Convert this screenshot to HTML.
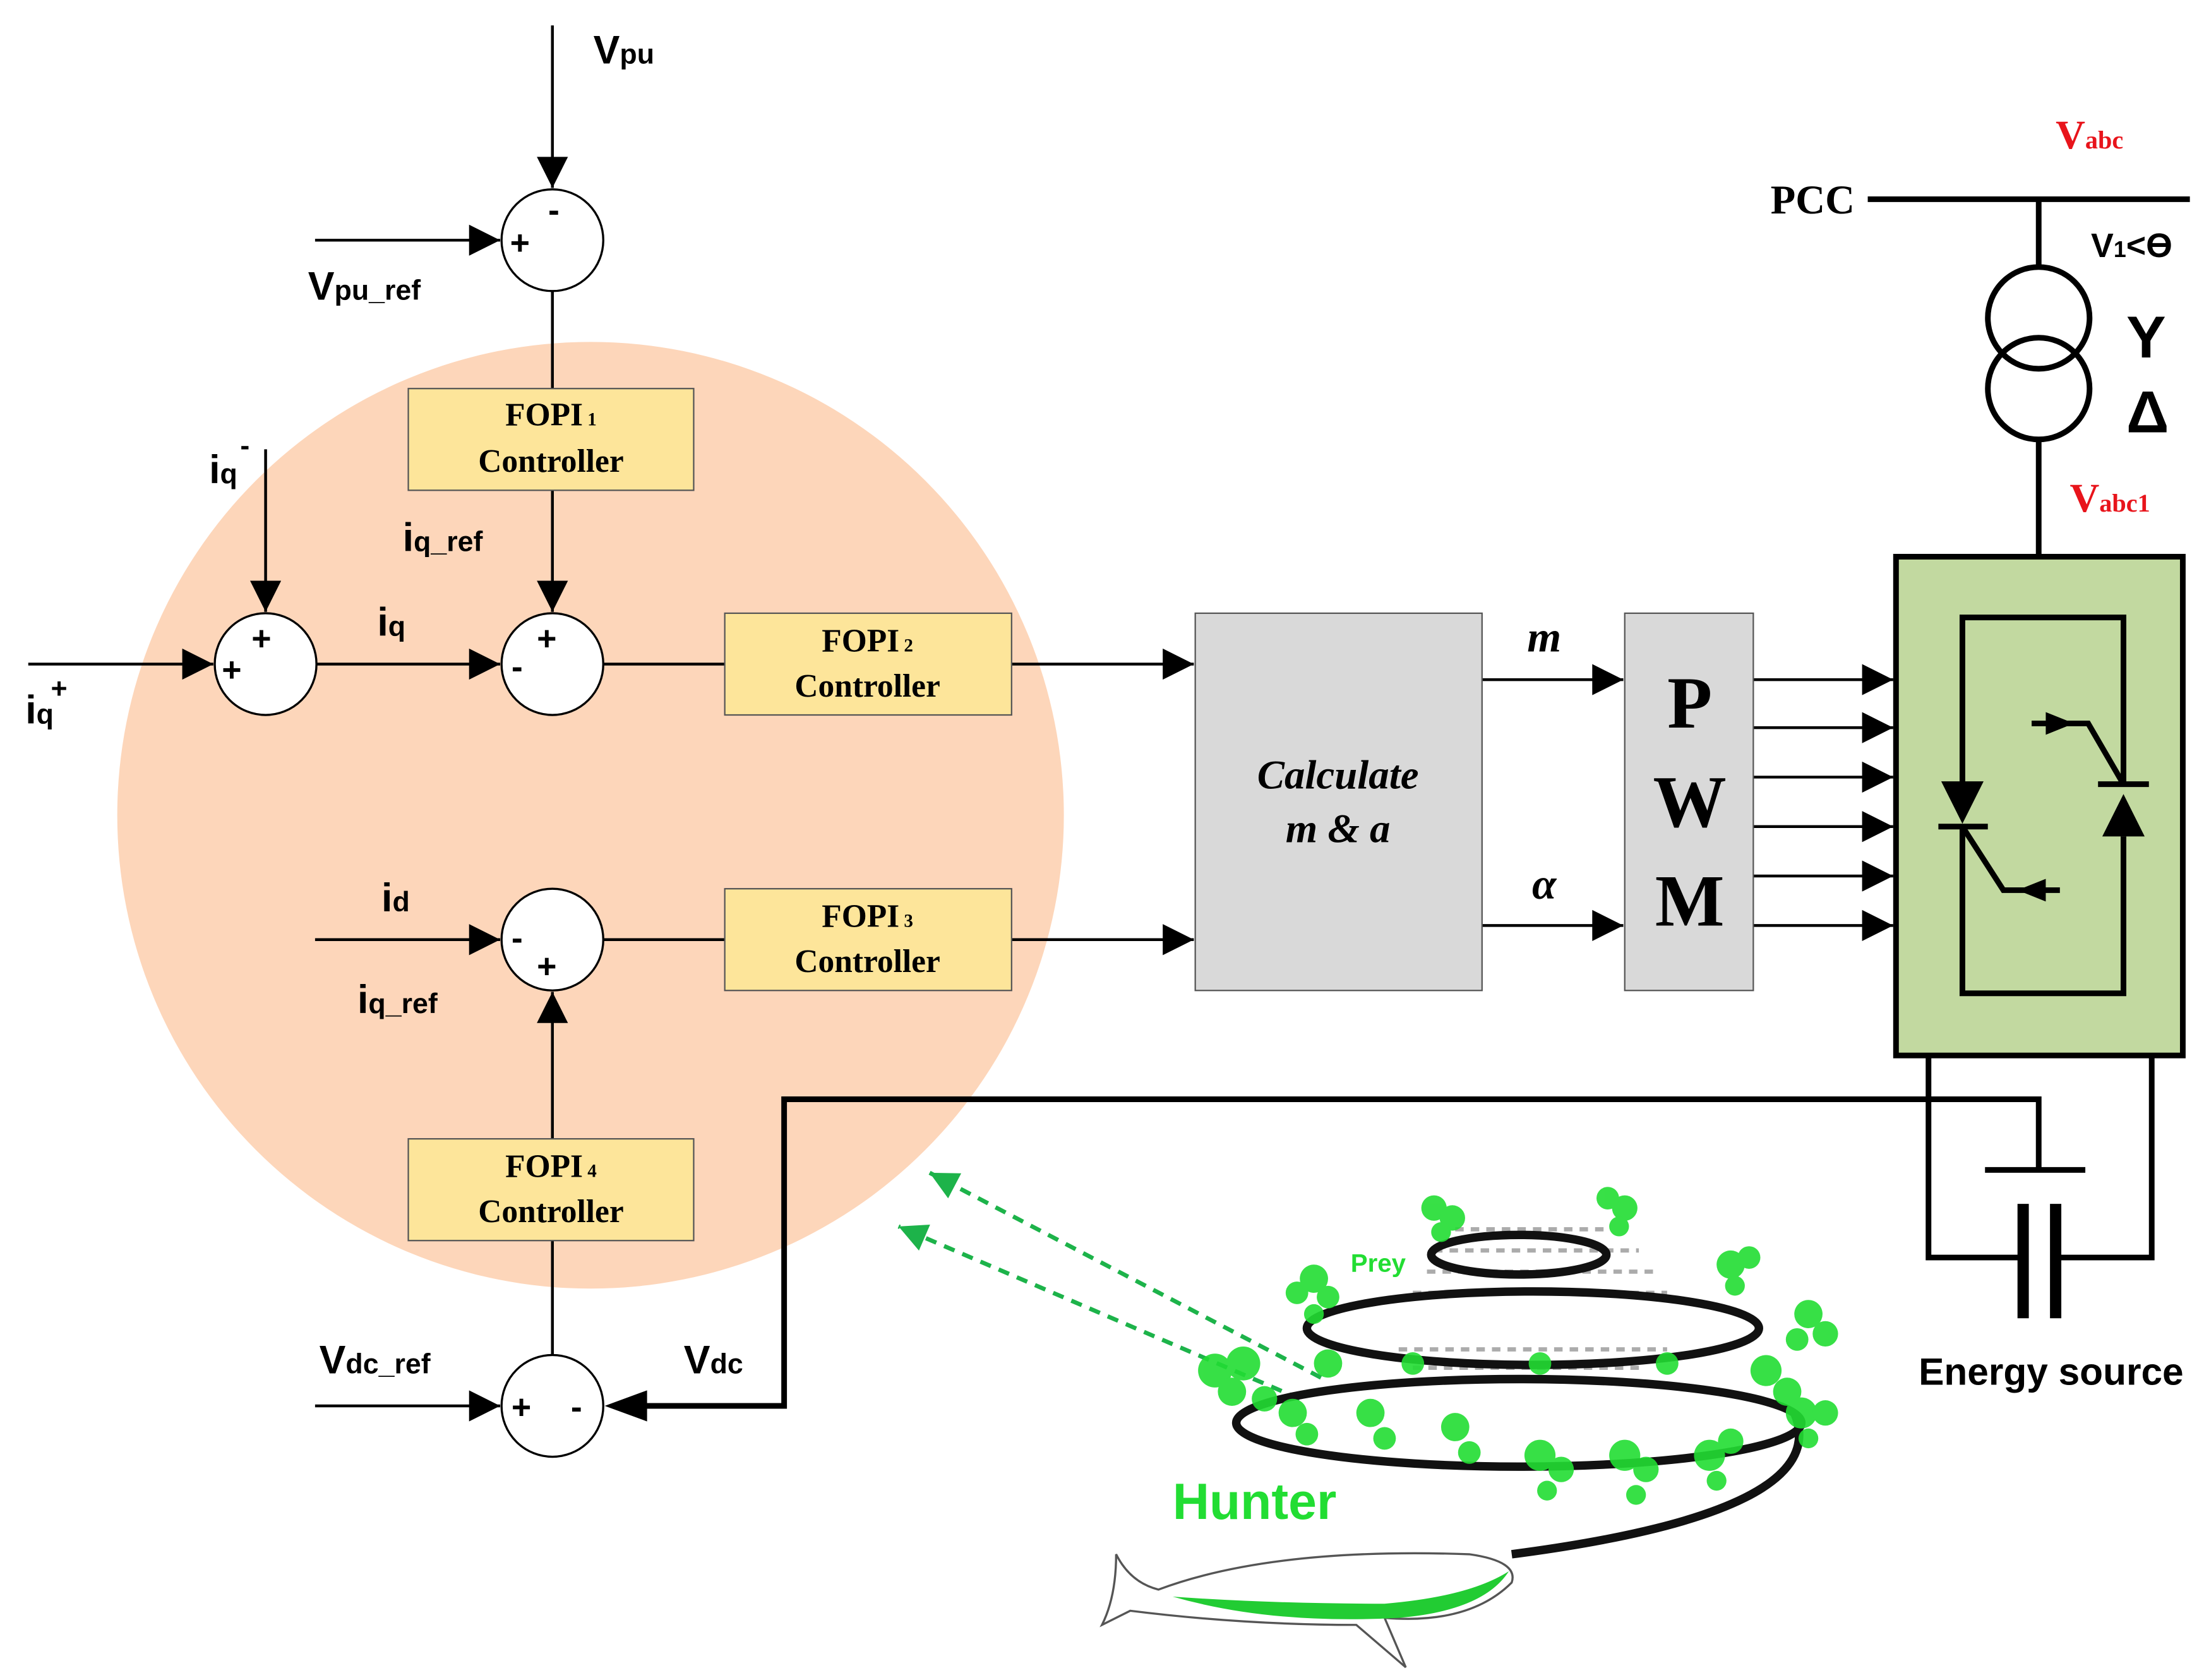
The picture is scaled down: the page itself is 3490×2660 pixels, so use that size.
<!DOCTYPE html>
<html><head><meta charset="utf-8"><style>
html,body{margin:0;padding:0;background:#fff}
svg{display:block}
.s{font-family:"Liberation Sans",sans-serif;font-weight:bold}
.r{font-family:"Liberation Serif",serif;font-weight:bold}
</style></head><body>
<svg width="3490" height="2660" viewBox="0 0 1560 1189" xmlns="http://www.w3.org/2000/svg">
<defs>
<marker id="A" viewBox="0 0 10 10" refX="10" refY="5" markerWidth="30" markerHeight="22" markerUnits="userSpaceOnUse" orient="auto"><path d="M0,0 L10,5 L0,10 z"/></marker>
<marker id="g" viewBox="0 0 10 10" refX="10" refY="5" markerWidth="24" markerHeight="20" markerUnits="userSpaceOnUse" orient="auto"><path d="M0,0 L10,5 L0,10 z" fill="#1db34a"/></marker>
</defs>
<rect width="1560" height="1189" fill="#fff"/>
<circle cx="418" cy="577" r="335" fill="#fdd6ba"/>
<g stroke="#000" stroke-width="2" fill="none">
<line x1="391" y1="18" x2="391" y2="133" marker-end="url(#A)"/>
<line x1="223" y1="170" x2="354" y2="170" marker-end="url(#A)"/>
<line x1="391" y1="206" x2="391" y2="275"/>
<line x1="391" y1="347" x2="391" y2="433" marker-end="url(#A)"/>
<line x1="188" y1="318" x2="188" y2="433" marker-end="url(#A)"/>
<line x1="20" y1="470" x2="151" y2="470" marker-end="url(#A)"/>
<line x1="224" y1="470" x2="354" y2="470" marker-end="url(#A)"/>
<line x1="427" y1="470" x2="513" y2="470"/>
<line x1="716" y1="470" x2="845" y2="470" marker-end="url(#A)"/>
<line x1="223" y1="665" x2="354" y2="665" marker-end="url(#A)"/>
<line x1="427" y1="665" x2="513" y2="665"/>
<line x1="716" y1="665" x2="845" y2="665" marker-end="url(#A)"/>
<line x1="391" y1="959" x2="391" y2="878"/>
<line x1="391" y1="806" x2="391" y2="702" marker-end="url(#A)"/>
<line x1="223" y1="995" x2="354" y2="995" marker-end="url(#A)"/>
<line x1="1049" y1="481" x2="1149" y2="481" marker-end="url(#A)"/>
<line x1="1049" y1="655" x2="1149" y2="655" marker-end="url(#A)"/>
<line x1="1241" y1="481" x2="1340" y2="481" marker-end="url(#A)"/>
<line x1="1241" y1="515" x2="1340" y2="515" marker-end="url(#A)"/>
<line x1="1241" y1="550" x2="1340" y2="550" marker-end="url(#A)"/>
<line x1="1241" y1="585" x2="1340" y2="585" marker-end="url(#A)"/>
<line x1="1241" y1="620" x2="1340" y2="620" marker-end="url(#A)"/>
<line x1="1241" y1="655" x2="1340" y2="655" marker-end="url(#A)"/>
</g>
<g stroke="#000" stroke-width="4" fill="none">
<polyline points="1443,828 1443,778 555,778 555,995 450,995"/>
<line x1="1405" y1="828" x2="1476" y2="828"/>
<polyline points="1365,748 1365,890 1432,890"/>
<polyline points="1523,748 1523,890 1455,890"/>
<line x1="1432" y1="852" x2="1432" y2="933" stroke-width="8"/>
<line x1="1455" y1="852" x2="1455" y2="933" stroke-width="8"/>
<line x1="1322" y1="141" x2="1550" y2="141"/>
<line x1="1443" y1="141" x2="1443" y2="189"/>
<circle cx="1443" cy="225" r="36"/>
<circle cx="1443" cy="275" r="36"/>
<line x1="1443" y1="311" x2="1443" y2="393"/>
</g>
<path d="M428,995 L458,984 L458,1006 z"/>
<g fill="#fff" stroke="#000" stroke-width="1.5">
<circle cx="391" cy="170" r="36"/><circle cx="188" cy="470" r="36"/>
<circle cx="391" cy="470" r="36"/><circle cx="391" cy="665" r="36"/>
<circle cx="391" cy="995" r="36"/>
</g>
<g fill="#fde59a" stroke="#555" stroke-width="1">
<rect x="289" y="275" width="202" height="72"/>
<rect x="513" y="434" width="203" height="72"/>
<rect x="513" y="629" width="203" height="72"/>
<rect x="289" y="806" width="202" height="72"/>
</g>
<rect x="846" y="434" width="203" height="267" fill="#d9d9d9" stroke="#555"/>
<rect x="1150" y="434" width="91" height="267" fill="#d9d9d9" stroke="#555"/>
<rect x="1342" y="394" width="203" height="353" fill="#c2d9a0" stroke="#000" stroke-width="4"/>
<g stroke="#000" stroke-width="4" fill="none">
<polyline points="1389,555 1389,437 1503,437 1503,555"/>
<polyline points="1389,585 1389,703 1503,703 1503,592"/>
<line x1="1372" y1="585" x2="1407" y2="585"/>
<line x1="1485" y1="555" x2="1521" y2="555"/>
<polyline points="1389,585 1418,630 1458,630"/>
<polyline points="1503,555 1478,512 1438,512"/>
</g>
<path d="M1374,553 L1404,553 L1389,583 z M1488,592 L1518,592 L1503,562 z M1428,630 L1448,622 L1448,638 z M1468,512 L1448,504 L1448,520 z"/>
<g stroke="#1db34a" stroke-width="3" stroke-dasharray="8,6" fill="none">
<line x1="935" y1="975" x2="658" y2="830" marker-end="url(#g)"/>
<line x1="920" y1="990" x2="636" y2="868" marker-end="url(#g)"/>
</g>
<g stroke="#888" stroke-width="3" stroke-dasharray="6,5" opacity="0.7">
<line x1="1030" y1="870" x2="1140" y2="870"/>
<line x1="1015" y1="885" x2="1160" y2="885"/>
<line x1="1010" y1="900" x2="1170" y2="900"/>
<line x1="1000" y1="915" x2="1180" y2="915"/>
<line x1="990" y1="955" x2="1180" y2="955"/>
<line x1="1000" y1="968" x2="1160" y2="968"/>
</g>
<g stroke="#111" stroke-width="6" fill="none">
<ellipse cx="1075" cy="888" rx="62" ry="14"/>
<ellipse cx="1085" cy="940" rx="160" ry="26"/>
<ellipse cx="1075" cy="1007" rx="200" ry="31"/>
<path d="M1270,1000 Q1300,1070 1070,1100"/>
</g>
<g fill="#22dd33" opacity="0.9">
<circle cx="1015" cy="855" r="9"/><circle cx="1028" cy="862" r="9"/><circle cx="1020" cy="872" r="7"/>
<circle cx="1150" cy="855" r="9"/><circle cx="1138" cy="848" r="8"/><circle cx="1146" cy="868" r="7"/>
<circle cx="930" cy="905" r="10"/><circle cx="918" cy="915" r="8"/><circle cx="940" cy="918" r="8"/><circle cx="930" cy="930" r="7"/>
<circle cx="1225" cy="895" r="10"/><circle cx="1238" cy="890" r="8"/><circle cx="1228" cy="910" r="7"/>
<circle cx="1280" cy="930" r="10"/><circle cx="1292" cy="944" r="9"/><circle cx="1272" cy="948" r="8"/>
<circle cx="860" cy="970" r="12"/><circle cx="880" cy="965" r="12"/><circle cx="872" cy="985" r="10"/><circle cx="895" cy="990" r="9"/>
<circle cx="940" cy="965" r="10"/><circle cx="1000" cy="965" r="8"/><circle cx="1090" cy="965" r="8"/>
<circle cx="1180" cy="965" r="8"/><circle cx="1250" cy="970" r="11"/><circle cx="1265" cy="985" r="10"/>
<circle cx="915" cy="1000" r="10"/><circle cx="925" cy="1015" r="8"/>
<circle cx="970" cy="1000" r="10"/><circle cx="980" cy="1018" r="8"/>
<circle cx="1030" cy="1010" r="10"/><circle cx="1040" cy="1028" r="8"/>
<circle cx="1090" cy="1030" r="11"/><circle cx="1105" cy="1040" r="9"/><circle cx="1095" cy="1055" r="7"/>
<circle cx="1150" cy="1030" r="11"/><circle cx="1165" cy="1040" r="9"/><circle cx="1158" cy="1058" r="7"/>
<circle cx="1210" cy="1030" r="11"/><circle cx="1225" cy="1020" r="9"/><circle cx="1215" cy="1048" r="7"/>
<circle cx="1275" cy="1000" r="11"/><circle cx="1292" cy="1000" r="9"/><circle cx="1280" cy="1018" r="7"/>
</g>
<text x="956" y="900" class="s" font-size="18" fill="#22dd33">Prey</text>
<text x="830" y="1075" class="s" font-size="36" fill="#22dd33">Hunter</text>
<path d="M790,1100 Q800,1120 820,1125 Q900,1095 1040,1100 Q1075,1105 1070,1120 Q1040,1150 980,1145 L995,1180 L960,1150 Q880,1150 800,1140 L780,1150 Q790,1130 790,1100 z" fill="#fff" stroke="#555" stroke-width="1.5"/>
<path d="M830,1130 Q900,1135 980,1135 Q1040,1130 1068,1112 Q1050,1140 990,1145 Q900,1150 830,1130 z" fill="#22cc33"/>
<g class="s" font-size="28">
<text x="420" y="45">V<tspan font-size="20">pu</tspan></text>
<text x="218" y="212">V<tspan font-size="20">pu_ref</tspan></text>
<text x="285" y="390">i<tspan font-size="20">q_ref</tspan></text>
<text x="148" y="342">i<tspan font-size="20">q</tspan></text>
<text x="170" y="322" font-size="20">-</text>
<text x="18" y="512">i<tspan font-size="20">q</tspan></text>
<text x="36" y="494" font-size="20">+</text>
<text x="267" y="450">i<tspan font-size="20">q</tspan></text>
<text x="270" y="645">i<tspan font-size="20">d</tspan></text>
<text x="253" y="717">i<tspan font-size="20">q_ref</tspan></text>
<text x="226" y="972">V<tspan font-size="20">dc_ref</tspan></text>
<text x="484" y="972">V<tspan font-size="20">dc</tspan></text>
<text x="1358" y="980" font-size="27">Energy source</text>
<text x="1480" y="182" font-size="24">V<tspan font-size="16">1</tspan>&lt;ϴ</text>
<text x="1505" y="253" font-size="42">Y</text>
<text x="1505" y="306" font-size="42">Δ</text>
</g>
<g class="s" font-size="24">
<text x="361" y="180">+</text><text x="388" y="157">-</text>
<text x="157" y="482">+</text><text x="178" y="460">+</text>
<text x="362" y="480">-</text><text x="380" y="460">+</text>
<text x="362" y="672">-</text><text x="380" y="692">+</text>
<text x="362" y="1004">+</text><text x="404" y="1004">-</text>
</g>
<g class="r" font-size="23" text-anchor="middle">
<text x="390" y="301">FOPI<tspan font-size="13"> 1</tspan></text><text x="390" y="334">Controller</text>
<text x="614" y="461">FOPI<tspan font-size="13"> 2</tspan></text><text x="614" y="493">Controller</text>
<text x="614" y="656">FOPI<tspan font-size="13"> 3</tspan></text><text x="614" y="688">Controller</text>
<text x="390" y="833">FOPI<tspan font-size="13"> 4</tspan></text><text x="390" y="865">Controller</text>
<text x="947" y="558" font-style="italic" font-size="29">Calculate</text>
<text x="947" y="596" font-style="italic" font-size="29">m &amp; a</text>
<text x="1196" y="515" font-size="52">P</text>
<text x="1196" y="585" font-size="52">W</text>
<text x="1196" y="655" font-size="52">M</text>
<text x="1093" y="461" font-style="italic" font-size="31">m</text>
<text x="1093" y="636" font-style="italic" font-size="31">α</text>
<text x="1283" y="151" font-size="29">PCC</text>
</g>
<g class="r" font-size="29" fill="#e8141b">
<text x="1455" y="105">V<tspan font-size="18">abc</tspan></text>
<text x="1465" y="362">V<tspan font-size="18">abc1</tspan></text>
</g>
</svg>
</body></html>
